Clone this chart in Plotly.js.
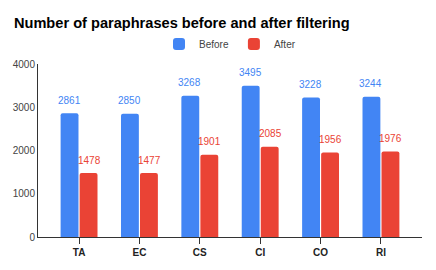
<!DOCTYPE html>
<html><head><meta charset="utf-8">
<script src="https://cdn.plot.ly/plotly-3.0.1.min.js"></script>
<style>html,body{margin:0;padding:0;background:#fff}#c{width:436px;height:270px}</style>
</head><body><div id="c"></div>
<script>
const categories = ['TA','EC','CS','CI','CO','RI'];
const before = [2861, 2850, 3268, 3495, 3228, 3244];
const after = [1478, 1477, 1901, 2085, 1956, 1976];
const yTicks = [0, 1000, 2000, 3000, 4000];
const BLUE = '#4285F4', RED = '#EA4335';
const FONT = 'Liberation Sans, Arial, sans-serif';

const traces = [
  {type:'bar', name:'Before', x:categories, y:before, marker:{color:BLUE}},
  {type:'bar', name:'After', x:categories, y:after, marker:{color:RED}}
];
const annotations = [];
categories.forEach((c,i)=>{
  annotations.push({x:c, y:before[i], text:String(before[i]), showarrow:false, xshift:-10, yshift:13, font:{family:FONT,size:10,color:BLUE}});
  annotations.push({x:c, y:after[i], text:String(after[i]), showarrow:false, xshift:10, yshift:13, font:{family:FONT,size:10,color:RED}});
});
const layout = {
  width:436, height:270,
  margin:{l:38, r:14, t:64, b:33},
  paper_bgcolor:'#fff', plot_bgcolor:'#fff',
  font:{family:FONT, size:10, color:'#444'},
  title:{text:'<b>Number of paraphrases before and after filtering</b>', x:0.032, xanchor:'left', y:0.915, yanchor:'middle', font:{family:FONT, size:14.6, color:'#000'}},
  showlegend:true,
  legend:{orientation:'h', x:0.5, xanchor:'center', y:1.115, yanchor:'middle', font:{family:FONT,size:10,color:'#444'}, itemwidth:30, traceorder:'normal'},
  bargap:0.37, bargroupgap:0.06,
  barcornerradius:2,
  xaxis:{type:'category', range:[-0.68,5.68], showline:true, linecolor:'#333', linewidth:1, ticks:'outside', ticklen:6, tickcolor:'#333', tickfont:{family:FONT,size:10,color:'#222',weight:'bold'}, showgrid:false, fixedrange:true},
  yaxis:{range:[0,4000], tickvals:yTicks, ticktext:yTicks.map(String), showline:true, linecolor:'#333', linewidth:1, showgrid:false, zeroline:false, ticks:'', tickfont:{family:FONT,size:10,color:'#444'}},
  annotations:annotations
};
Plotly.newPlot('c', traces, layout, {displayModeBar:false, staticPlot:true});
</script></body></html>
